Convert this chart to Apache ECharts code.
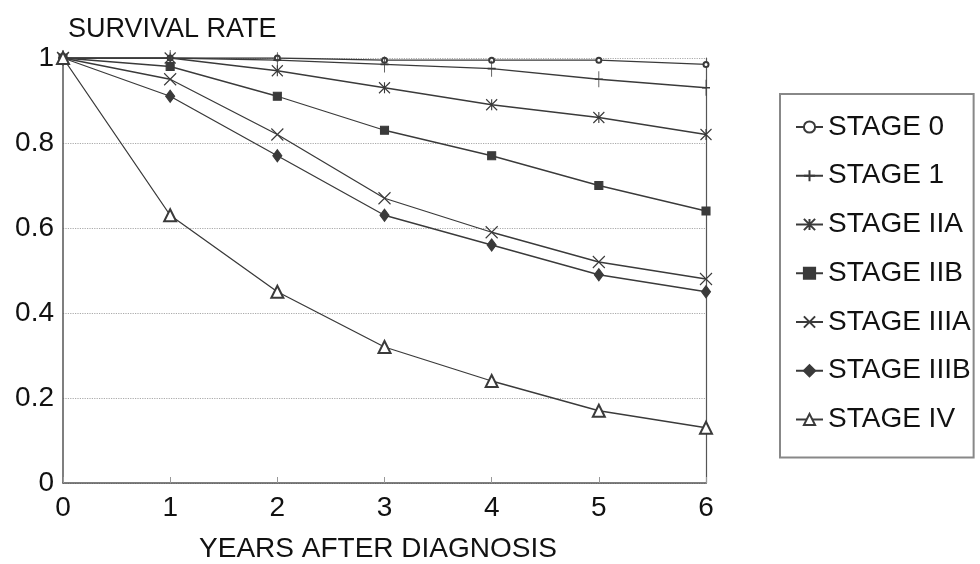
<!DOCTYPE html>
<html>
<head>
<meta charset="utf-8">
<script src="https://cdn.jsdelivr.net/npm/echarts@6/dist/echarts.min.js"></script>
<style>
  html, body { margin: 0; padding: 0; background: #fff; }
  #chart { width: 980px; height: 564px; }
</style>
</head>
<body>
<div id="chart"></div>
<script>
// years after diagnosis
var years = [0, 1, 2, 3, 4, 5, 6];
var yTicks = [0, 0.2, 0.4, 0.6, 0.8, 1];

var stageNames = ['STAGE 0', 'STAGE 1', 'STAGE IIA', 'STAGE IIB', 'STAGE IIIA', 'STAGE IIIB', 'STAGE IV'];
var stage0 = [1, 1, 1, 0.995, 0.995, 0.995, 0.985];
var stage1 = [1, 1, 0.995, 0.985, 0.975, 0.95, 0.93];
var stageIIA = [1, 1, 0.97, 0.93, 0.89, 0.86, 0.82];
var stageIIB = [1, 0.98, 0.91, 0.83, 0.77, 0.70, 0.64];
var stageIIIA = [1, 0.95, 0.82, 0.67, 0.59, 0.52, 0.48];
var stageIIIB = [1, 0.91, 0.77, 0.63, 0.56, 0.49, 0.45];
var stageIV = [1, 0.63, 0.45, 0.32, 0.24, 0.17, 0.13];

var allStages = [stage0, stage1, stageIIA, stageIIB, stageIIIA, stageIIIB, stageIV];

var FONT = "'Liberation Sans', Arial, sans-serif";
var INK = '#3a3a3a';
var TXT = '#111';

// marker shapes, drawn as strokes
var plusPath = 'path://M5,0L5,10M0,5L10,5';
var starPath = 'path://M0,0L10,10M10,0L0,10M5,0L5,10';
var crossPath = 'path://M0,0L10,10M10,0L0,10';

var markers = [
  { symbol: 'emptyCircle', size: 5 },
  { symbol: plusPath, size: [8, 16] },
  { symbol: starPath, size: [11, 11] },
  { symbol: 'rect', size: 8 },
  { symbol: crossPath, size: [12, 12] },
  { symbol: 'diamond', size: [9, 12] },
  { symbol: 'emptyTriangle', size: 12 }
];

function pairs(vals) {
  return years.map(function (x, i) { return [x, vals[i]]; });
}

var series = allStages.map(function (vals, i) {
  var m = markers[i];
  return {
    name: stageNames[i],
    type: 'line',
    data: pairs(vals),
    symbol: m.symbol,
    symbolSize: m.size,
    showAllSymbol: true,
    lineStyle: { color: INK, width: 1.3 },
    itemStyle: { color: INK, borderColor: INK, borderWidth: 1.1 },
    emphasis: { disabled: true },
    z: 3
  };
});

var myChart = echarts.init(document.getElementById('chart'));
var option = {
  animation: false,
  backgroundColor: '#fff',
  textStyle: { fontFamily: FONT },
  title: {
    text: 'SURVIVAL RATE',
    left: 63,
    top: 11,
    textStyle: { fontFamily: FONT, fontSize: 27, fontWeight: 'normal', color: TXT }
  },
  legend: {
    orient: 'vertical',
    left: 780,
    top: 94,
    padding: [19, 3, 24, 15],
    itemGap: 20.75,
    itemWidth: 27,
    itemHeight: 14,
    borderColor: '#888',
    borderWidth: 2,
    data: stageNames,
    textStyle: { fontFamily: FONT, fontSize: 28, color: TXT, lineHeight: 28 }
  },
  grid: { left: 63, right: 274, top: 58, bottom: 81, outerBoundsMode: 'none', containLabel: false },
  xAxis: {
    type: 'value',
    min: 0,
    max: 6,
    interval: 1,
    name: 'YEARS AFTER DIAGNOSIS',
    nameLocation: 'middle',
    nameGap: 52,
    nameTextStyle: { fontFamily: FONT, fontSize: 28, color: TXT, padding: [0, 13, 0, 0] },
    axisLine: { lineStyle: { color: '#555', width: 1.5 } },
    axisTick: { show: true, inside: true, length: 6, lineStyle: { color: '#999' } },
    axisLabel: { fontFamily: FONT, fontSize: 28, color: TXT, margin: 11 },
    splitLine: { show: false }
  },
  yAxis: [
    {
      type: 'value',
      min: 0,
      max: 1,
      interval: 0.2,
      axisLine: { show: true, lineStyle: { color: '#555', width: 1.5 } },
      axisTick: { show: false },
      axisLabel: { fontFamily: FONT, fontSize: 28, color: TXT, margin: 9 },
      splitLine: { show: true, lineStyle: { color: '#aaa', type: 'dotted', width: 1.2 } }
    },
    {
      type: 'value',
      min: 0,
      max: 1,
      interval: 0.2,
      position: 'right',
      axisLine: { show: true, lineStyle: { color: '#555', width: 1.2 } },
      axisTick: { show: false },
      axisLabel: { show: false },
      splitLine: { show: false }
    }
  ],
  series: series
};
myChart.setOption(option, true);
</script>
</body>
</html>
